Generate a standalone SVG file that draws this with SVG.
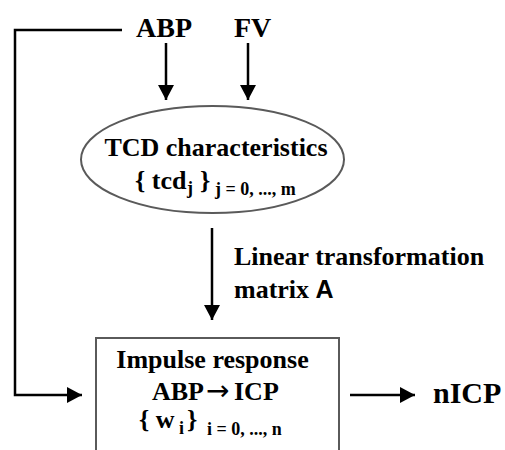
<svg xmlns="http://www.w3.org/2000/svg" width="505" height="450" viewBox="0 0 505 450">
<style>
.t{font-family:"Liberation Serif","Times New Roman",serif;font-weight:bold;fill:#000}
.big{font-size:28px}
.mid{font-size:26px}
.sub{font-size:18px}
.ln{stroke:#000;stroke-width:2.5;fill:none}
.shape{stroke:#5a5a5a;stroke-width:2;fill:#fff}
</style>
<defs>
<marker id="ah" viewBox="0 0 15 16" refX="15" refY="8" markerWidth="15" markerHeight="16" markerUnits="userSpaceOnUse" orient="auto">
<path d="M0,0 L15,8 L0,16 Z" fill="#000"/>
</marker>
</defs>
<rect width="505" height="450" fill="#fff"/>
<g id="connectors">
<polyline class="ln" points="122,30 15,30 15,395 82,395" marker-end="url(#ah)"/>
<line class="ln" x1="166" y1="43" x2="166" y2="100" marker-end="url(#ah)"/>
<line class="ln" x1="248" y1="43" x2="248" y2="100" marker-end="url(#ah)"/>
<line class="ln" x1="212" y1="228" x2="212" y2="320" marker-end="url(#ah)"/>
<line class="ln" x1="350" y1="395" x2="415" y2="395" marker-end="url(#ah)"/>
</g>
<g id="abp"><text class="t big" x="136" y="37">ABP</text></g>
<g id="fv"><text class="t big" x="234" y="37">FV</text></g>
<g id="tcd">
<ellipse class="shape" cx="212.5" cy="159.5" rx="131.5" ry="53.5"/>
<text class="t mid" x="216" y="156" text-anchor="middle">TCD characteristics</text>
<text class="t mid" x="135" y="189">{ tcd<tspan class="sub" x="187" y="194">j</tspan><tspan x="200" y="189">}</tspan><tspan class="sub" x="215" y="195">j = 0, ..., m</tspan></text>
</g>
<g id="label">
<text class="t mid" x="234" y="265">Linear transformation</text>
<text class="t mid" x="234" y="298">matrix <tspan font-family="Liberation Sans, Arial, sans-serif" font-size="25">A</tspan></text>
</g>
<g id="impulse">
<rect class="shape" x="96" y="338" width="243" height="130"/>
<text class="t mid" x="212.5" y="368" text-anchor="middle">Impulse response</text>
<text class="t mid" x="152" y="400">ABP<tspan x="206" font-family="DejaVu Sans, sans-serif" font-weight="normal" font-size="28">→</tspan><tspan x="234">ICP</tspan></text>
<text class="t mid" x="139" y="428">{ w<tspan class="sub" x="179" y="434">i</tspan><tspan x="187" y="428">}</tspan><tspan class="sub" x="207" y="435">i = 0, ..., n</tspan></text>
</g>
<g id="nicp"><text class="t" font-size="30" x="433" y="403">nICP</text></g>
</svg>
